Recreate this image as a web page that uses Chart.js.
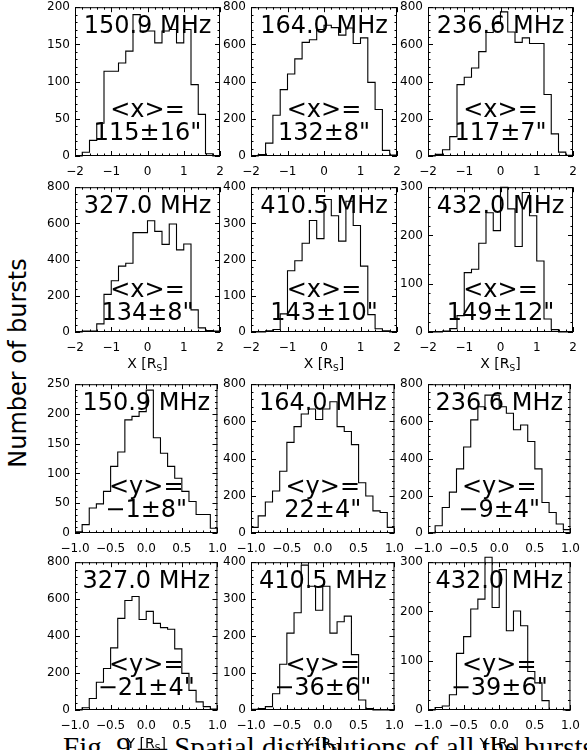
<!DOCTYPE html>
<html>
<head>
<meta charset="utf-8">
<script src="https://cdn.jsdelivr.net/npm/chart.js@4.4.1/dist/chart.umd.min.js"></script>
<style>
  html, body { margin: 0; padding: 0; background: #fff; }
  body { width: 587px; height: 750px; position: relative; overflow: hidden; font-family: 'DejaVu Sans', sans-serif; }
  canvas { position: absolute; }
  #ylab { position: absolute; left: 18px; top: 363px; transform: translate(-50%, -50%) rotate(-90deg); font-size: 24px; white-space: nowrap; }
  #caption { position: absolute; left: 63px; top: 733px; font-family: 'Liberation Serif', serif; font-size: 29px; line-height: 1; white-space: nowrap; }
</style>
</head>
<body>
<div id="caption">Fig. 9.— Spatial distributions of all the bursts</div>
<div id="ylab">Number of bursts</div>
<script>
// bin left edges (R_s)
const binsX = [-2.0, -1.8, -1.6, -1.4, -1.2, -1.0, -0.8, -0.6, -0.4, -0.2, 0.0, 0.2, 0.4, 0.6, 0.8, 1.0, 1.2, 1.4, 1.6, 1.8];
const binsY = [-1.0, -0.9, -0.8, -0.7, -0.6, -0.5, -0.4, -0.3, -0.2, -0.1, 0.0, 0.1, 0.2, 0.3, 0.4, 0.5, 0.6, 0.7, 0.8, 0.9];

const freqs = ['150.9 MHz', '164.0 MHz', '236.6 MHz', '327.0 MHz', '410.5 MHz', '432.0 MHz'];
const meanX = ['115±16"', '132±8"', '117±7"', '134±8"', '143±10"', '149±12"'];
const meanY = ['−1±8"', '22±4"', '−9±4"', '−21±4"', '−36±6"', '−39±6"'];

// counts per bin, X distributions
const x150 = [0, 5, 21, 44, 114, 114, 125, 141, 190, 168, 168, 152, 168, 170, 152, 170, 96, 56, 3, 0];
const x164 = [0, 8, 69, 219, 357, 441, 522, 611, 625, 680, 703, 690, 650, 688, 605, 635, 396, 250, 30, 5];
const x236 = [0, 9, 34, 104, 384, 423, 473, 561, 664, 712, 775, 667, 611, 635, 605, 605, 331, 119, 21, 4];
const x327 = [0, 5, 5, 45, 208, 283, 364, 380, 549, 549, 615, 556, 484, 597, 454, 486, 122, 23, 8, 5];
const x410 = [0, 0, 3, 7, 50, 169, 197, 245, 308, 258, 366, 321, 251, 361, 294, 182, 48, 9, 3, 0];
const x432 = [0, 0, 2, 7, 34, 123, 130, 184, 247, 210, 300, 255, 177, 289, 241, 147, 27, 5, 0, 0];

// counts per bin, Y distributions
const y150 = [2, 14, 42, 49, 70, 112, 136, 190, 196, 204, 240, 160, 134, 112, 92, 70, 53, 31, 31, 8];
const y164 = [30, 92, 167, 226, 332, 487, 572, 640, 667, 610, 667, 706, 572, 546, 475, 270, 199, 119, 110, 30];
const y236 = [0, 39, 137, 220, 345, 462, 608, 679, 741, 741, 679, 644, 555, 581, 492, 345, 164, 110, 48, 18];
const y327 = [0, 12, 62, 150, 225, 336, 496, 593, 614, 490, 534, 469, 446, 437, 331, 198, 106, 44, 18, 5];
const y410 = [2, 4, 9, 44, 124, 208, 263, 392, 335, 270, 335, 208, 239, 254, 150, 27, 4, 0, 0, 0];
const y432 = [0, 5, 8, 31, 115, 149, 205, 225, 310, 208, 285, 161, 201, 171, 78, 55, 19, 1, 1, 0];

// y axis ranges
const yMaxX = [200, 800, 800, 800, 400, 300];
const yStepX = [50, 200, 200, 200, 100, 100];
const yMaxY = [250, 800, 800, 800, 400, 300];
const yStepY = [50, 200, 200, 200, 100, 100];

const colLeft = [75, 251, 428];
const colWidth = [145, 146, 145];
const rowTop = [5, 185, 382, 560];
const rowHeight = [151, 147, 151, 150];
const ML = 48, MT = 10, MR = 16, MB = 45;

const FONT = "'DejaVu Sans', sans-serif";

const minus = s => String(s).replace('-', '−');

const idlFrame = {
  id: 'idlFrame',
  afterDatasetsDraw(chart, args, o) {
    const { ctx, chartArea: a, scales: { x, y } } = chart;
    ctx.save();
    ctx.strokeStyle = '#000';
    ctx.lineWidth = 1;
    ctx.strokeRect(a.left + 0.5, a.top + 0.5, a.right - a.left - 1, a.bottom - a.top - 1);
    ctx.beginPath();
    const nx = Math.round((x.max - x.min) / (o.xStep / 5));
    for (let i = 0; i <= nx; i++) {
      const px = Math.round(x.getPixelForValue(x.min + i * o.xStep / 5)) + 0.5;
      const len = i % 5 === 0 ? 5 : 2.5;
      ctx.moveTo(px, a.bottom); ctx.lineTo(px, a.bottom - len);
      ctx.moveTo(px, a.top); ctx.lineTo(px, a.top + len);
    }
    const ny = Math.round((y.max - y.min) / (o.yStep / 5));
    for (let i = 0; i <= ny; i++) {
      const py = Math.round(y.getPixelForValue(y.min + i * o.yStep / 5)) + 0.5;
      const len = i % 5 === 0 ? 5 : 2.5;
      ctx.moveTo(a.left, py); ctx.lineTo(a.left + len, py);
      ctx.moveTo(a.right, py); ctx.lineTo(a.right - len, py);
    }
    ctx.stroke();
    ctx.restore();
  },
  afterDraw(chart, args, o) {
    const { ctx, chartArea: a } = chart;
    const cx = (a.left + a.right) / 2;
    ctx.save();
    ctx.fillStyle = '#000';
    ctx.textAlign = 'center';
    ctx.textBaseline = 'middle';
    ctx.font = `24px ${FONT}`;
    ctx.fillText(o.freq, cx, a.top + 20);
    ctx.fillText(o.meanLabel, cx, a.top + 104);
    ctx.fillText(o.meanValue, cx, a.top + 127);
    if (o.axisTitle) {
      const main = `${o.axisTitle} [R`;
      ctx.font = `14px ${FONT}`;
      const w1 = ctx.measureText(main).width;
      ctx.font = `9px ${FONT}`;
      const w2 = ctx.measureText('S').width;
      ctx.font = `14px ${FONT}`;
      const w3 = ctx.measureText(']').width;
      const left = cx - (w1 + w2 + w3) / 2;
      const ty = a.bottom + o.titleOffset;
      ctx.textAlign = 'left';
      ctx.textBaseline = 'alphabetic';
      ctx.fillText(main, left, ty);
      ctx.font = `9px ${FONT}`;
      ctx.fillText('S', left + w1, ty + 3);
      ctx.font = `14px ${FONT}`;
      ctx.fillText(']', left + w1 + w2, ty);
    }
    ctx.restore();
  }
};

function histPoints(bins, counts) {
  const bw = bins[1] - bins[0];
  const pts = bins.map((b, i) => ({ x: b, y: counts[i] }));
  pts.push({ x: bins[bins.length - 1] + bw, y: counts[counts.length - 1] });
  return pts;
}

function makePanel(row, col, bins, counts, xRange, xStep, yMax, yStep, freq, meanLabel, meanValue, axisTitle, titleOffset) {
  const L = colLeft[col], W = colWidth[col], T = rowTop[row], H = rowHeight[row];
  const canvas = document.createElement('canvas');
  canvas.width = ML + W + MR;
  canvas.height = MT + H + MB;
  canvas.style.left = (L - ML) + 'px';
  canvas.style.top = (T - MT) + 'px';
  document.body.appendChild(canvas);
  const decimals = xStep < 1 ? 1 : 0;
  new Chart(canvas, {
    type: 'line',
    data: {
      datasets: [{
        data: histPoints(bins, counts),
        stepped: true,
        borderColor: '#000',
        borderWidth: 1.1,
        pointRadius: 0,
        fill: false,
        clip: false
      }]
    },
    options: {
      responsive: false,
      animation: false,
      devicePixelRatio: 1,
      layout: { autoPadding: false, padding: { left: 0, top: MT, right: MR, bottom: 0 } },
      plugins: {
        legend: { display: false },
        tooltip: { enabled: false },
        idlFrame: { xStep, yStep, freq, meanLabel, meanValue, axisTitle, titleOffset }
      },
      scales: {
        x: {
          type: 'linear',
          min: xRange[0],
          max: xRange[1],
          grid: { display: false, drawTicks: false },
          border: { display: false },
          afterFit: s => { s.height = MB; },
          ticks: {
            stepSize: xStep,
            autoSkip: false,
            maxRotation: 0,
            padding: 9,
            color: '#000',
            font: { family: FONT, size: 12 },
            callback: v => minus(Number(v).toFixed(decimals))
          }
        },
        y: {
          min: 0,
          max: yMax,
          grid: { display: false, drawTicks: false },
          border: { display: false },
          afterFit: s => { s.width = ML; },
          ticks: {
            stepSize: yStep,
            padding: 5,
            color: '#000',
            font: { family: FONT, size: 12 },
            callback: v => String(v)
          }
        }
      }
    },
    plugins: [idlFrame]
  });
}

const xSets = [x150, x164, x236, x327, x410, x432];
const ySets = [y150, y164, y236, y327, y410, y432];

xSets.forEach((c, i) => {
  const row = Math.floor(i / 3), col = i % 3;
  makePanel(row, col, binsX, c, [-2, 2], 1, yMaxX[i], yStepX[i], freqs[i], '<x>=', meanX[i], row === 1 ? 'X' : null, 36);
});
ySets.forEach((c, i) => {
  const row = 2 + Math.floor(i / 3), col = i % 3;
  makePanel(row, col, binsY, c, [-1, 1], 0.5, yMaxY[i], yStepY[i], freqs[i], '<y>=', meanY[i], row === 3 ? 'Y' : null, 38);
});
</script>
</body>
</html>
